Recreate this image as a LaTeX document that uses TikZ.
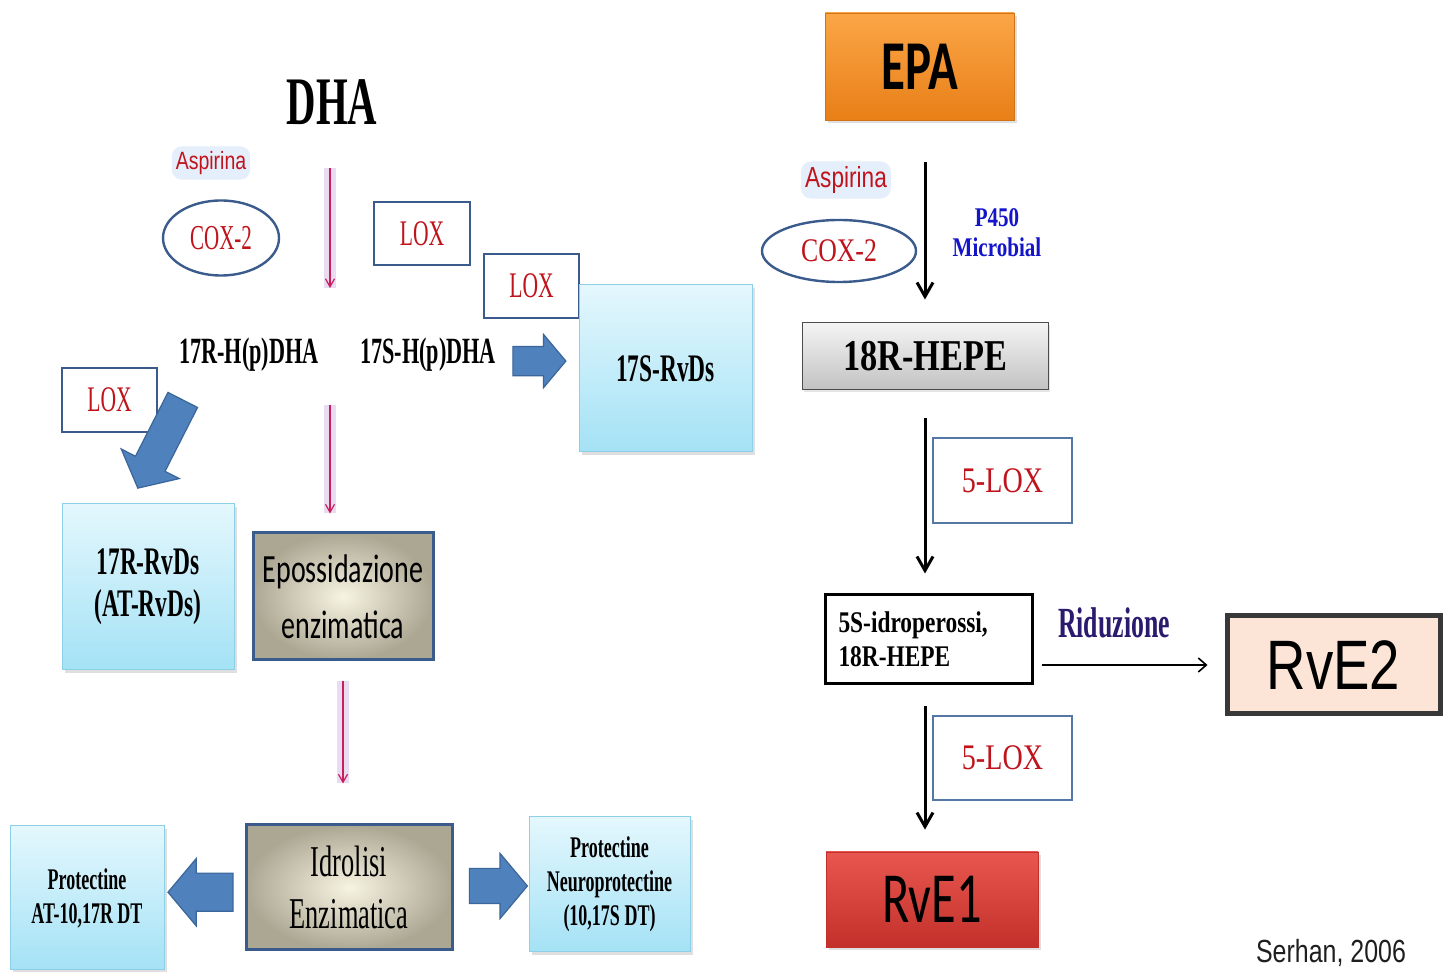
\documentclass[tikz,border=0pt]{standalone}
\usepackage{fontspec}
\setmainfont{Liberation Serif}[FakeStretch=0.6]
\newfontfamily\serifw{Liberation Serif}[FakeStretch=0.78]
\newfontfamily\calib{Carlito}[FakeStretch=0.7]
\newfontfamily\arialn{Liberation Sans}[FakeStretch=0.78]
\usepackage{tikz}
\usetikzlibrary{
  arrows.meta, positioning, shapes.geometric, shapes.arrows,
  shadows, calc
}
\definecolor{enzred}{HTML}{C0141C}
\definecolor{enzedge}{HTML}{3B5B8C}
\definecolor{loxedge}{HTML}{5577A3}
\definecolor{cyantop}{HTML}{E4F7FD}
\definecolor{cyanbot}{HTML}{A4E2F5}
\definecolor{cyanedge}{HTML}{8CCFE6}
\definecolor{arrblue}{HTML}{4F81BD}
\definecolor{arredge}{HTML}{3A6699}
\definecolor{khakiin}{HTML}{F8F4E2}
\definecolor{khakiout}{HTML}{ABA793}
\definecolor{pinkline}{HTML}{C81E5A}
\definecolor{lavglow}{HTML}{C9A6E0}
\definecolor{aspglow}{HTML}{8DB8EE}
\definecolor{orangetop}{HTML}{FBA647}
\definecolor{orangebot}{HTML}{E87F17}
\definecolor{graytop}{HTML}{F4F4F4}
\definecolor{graybot}{HTML}{C2C2C2}
\definecolor{redtop}{HTML}{E8574F}
\definecolor{redbot}{HTML}{C3302B}
\definecolor{peach}{HTML}{FCE4D6}
\definecolor{pblue}{HTML}{1414C8}
\definecolor{riduz}{HTML}{2B1A6E}

\begin{document}
\begin{tikzpicture}[x=0.5pt, y=-0.5pt,
  enzbox/.style={draw=enzedge, line width=1.2pt, fill=white, text=enzred,
    font=\fontsize{18}{20}\selectfont, inner sep=0pt},
  coxell/.style={ellipse, draw=enzedge, line width=1.2pt, text=enzred,
    font=\fontsize{17.5}{19}\selectfont, inner sep=0pt},
  asp/.style={text=enzred, font=\arialn\fontsize{12.5}{15}\selectfont,
    fill=aspglow, fill opacity=0.22, text opacity=1, rounded corners=5pt,
    inner xsep=2pt, inner ysep=2.5pt},
  cyanbox/.style={draw=cyanedge, line width=0.5pt, top color=cyantop,
    bottom color=cyanbot, align=center, inner sep=0pt,
    drop shadow={opacity=0.25, shadow xshift=1.5pt, shadow yshift=-1.5pt}},
  khakibox/.style={draw=enzedge, line width=1.5pt, inner color=khakiin,
    outer color=khakiout, align=center, inner sep=0pt},
  fatarrow/.style={single arrow, draw=arredge, fill=arrblue, line width=0.6pt,
    inner xsep=0pt, single arrow tip angle=100},
  pinkarrow/.style={draw=pinkline, line width=0.6pt,
    -{Straight Barb[length=4pt,width=4.5pt]},
    preaction={draw=lavglow, line width=6pt, opacity=0.4, -}},
  blackarrow/.style={draw=black, line width=1.5pt,
    -{Straight Barb[length=7pt,width=8pt]}},
  thinarrow/.style={draw=black, line width=0.8pt,
    -{Straight Barb[length=4pt,width=7pt]}}]

  \fill[white] (0,0) rectangle (1448,972);
  \useasboundingbox (0,0) rectangle (1448,972);

  % DHA side
  \node[font=\bfseries\fontsize{34}{36}\selectfont, anchor=south, inner sep=0pt] (dha) at (332,125) {DHA};
  \node[asp] (aspa) at (211,163) {Aspirina};
  \node[coxell, minimum width=58pt, minimum height=37.5pt] (coxa) at (221,238) {COX-2};
  \node[enzbox, minimum width=48pt, minimum height=31.5pt] (loxa) at (422,233.5) {LOX};
  \node[enzbox, minimum width=47.5pt, minimum height=32pt] (loxb) at (531.5,286) {LOX};
  \node[enzbox, minimum width=47.5pt, minimum height=32pt] (loxc) at (109.5,400) {LOX};

  \node[font=\bfseries\fontsize{18.5}{20}\selectfont, inner sep=0pt] (hr) at (249,355) {17R-H(p)DHA};
  \node[font=\bfseries\fontsize{18.5}{20}\selectfont, inner sep=0pt] (hs) at (428,355) {17S-H(p)DHA};
  \coordinate (hx) at (330,355);

  \node[cyanbox, font=\bfseries\fontsize{19.5}{21}\selectfont,
    minimum width=86.5pt, minimum height=83.5pt] (rs) at (665.5,368.5) {17S-RvDs};
  \node[cyanbox, font=\bfseries\fontsize{19.5}{21}\selectfont,
    minimum width=86pt, minimum height=83pt] (rr) at (148,587) {17R-RvDs\\(AT-RvDs)};
  \node[khakibox, font=\calib\fontsize{20}{28}\selectfont,
    minimum width=90pt, minimum height=63.5pt] (epo) at (343,596.5) {Epossidazione\\enzimatica};
  \node[khakibox, font=\fontsize{22}{26}\selectfont,
    minimum width=103pt, minimum height=62.5pt] (idr) at (349,887.5) {Idrolisi\\Enzimatica};
  \node[cyanbox, font=\bfseries\fontsize{15}{17}\selectfont,
    minimum width=77pt, minimum height=72pt] (ptl) at (87,898) {Protectine\\AT-10,17R DT};
  \node[cyanbox, font=\bfseries\fontsize{15}{17}\selectfont,
    minimum width=80.5pt, minimum height=67.5pt] (ptr) at (609.5,884.5) {Protectine\\Neuroprotectine\\(10,17S DT)};

  % Fat arrows
  \node[fatarrow, minimum height=26.5pt, inner ysep=7pt,
    single arrow head extend=6pt] (fa) at ($(hs.east)!0.45!(rs.west)$) {};
  \node[fatarrow, rotate=243, minimum height=49.5pt, inner ysep=8pt,
    single arrow head extend=8pt] (fb) at ($(hr.south west)!0.5!(rr.north)$) {};
  \node[fatarrow, rotate=180, minimum height=32.5pt, inner ysep=9.25pt,
    single arrow head extend=7.25pt] (fc) at ($(ptl.east)!0.55!(idr.west)$) {};
  \node[fatarrow, minimum height=29pt, inner ysep=8.5pt,
    single arrow head extend=7.5pt] (fd) at ($(idr.east)!0.5!(ptr.west)$) {};

  % Pink arrows
  \draw[pinkarrow, shorten <=21.5pt, shorten >=33.5pt] (dha.south -| hx) -- (hx);
  \draw[pinkarrow, shorten <=25pt, shorten >=9pt] (hx) -- (hx |- epo.north);
  \draw[pinkarrow, shorten <=10pt, shorten >=20pt] (epo.south) -- (epo.south |- idr.north);

  % EPA side
  \node[font=\calib\bfseries\fontsize{35}{40}\selectfont, top color=orangetop,
    bottom color=orangebot, draw=orangebot!90!black, line width=0.4pt,
    minimum width=94.5pt, minimum height=53.5pt,
    drop shadow={opacity=0.25, shadow xshift=1.5pt, shadow yshift=-1.5pt}] (epa) at (919.5,66.5) {EPA};
  \node[asp, font=\arialn\fontsize{14.5}{16}\selectfont] (aspb) at (846,180) {Aspirina};
  \node[coxell, font=\serifw\fontsize{16.5}{18}\selectfont, minimum width=77pt,
    minimum height=31pt] (coxb) at (839,251) {COX-2};
  \node[text=pblue, font=\serifw\bfseries\fontsize{13.5}{15}\selectfont, align=center,
    inner sep=0pt] (p450) at (997,233) {P450\\Microbial};
  \node[font=\serifw\bfseries\fontsize{22}{24}\selectfont, top color=graytop,
    bottom color=graybot, draw=black!70, line width=0.5pt,
    minimum width=123pt, minimum height=33.5pt,
    drop shadow={opacity=0.2, shadow xshift=1pt, shadow yshift=-1pt}] (hepe) at (925,356.5) {18R-HEPE};
  \node[enzbox, draw=loxedge, line width=1pt, font=\serifw\fontsize{18}{20}\selectfont,
    minimum width=69.5pt, minimum height=42.5pt] (loxd) at (1002.5,480.5) {5-LOX};
  \node[draw=black, line width=1.5pt, fill=white, align=left, text width=90pt,
    inner xsep=6.75pt, font=\serifw\bfseries\fontsize{15}{17}\selectfont,
    minimum width=103.5pt, minimum height=44.5pt] (hp) at (928.5,639.5) {5S-idroperossi,\\18R-HEPE};
  \node[text=riduz, font=\bfseries\fontsize{21.5}{23}\selectfont, inner sep=0pt] (ridu) at (1114,623) {Riduzione};
  \node[draw=black!78, line width=2.5pt, fill=peach, font=\arialn\fontsize{35}{40}\selectfont,
    minimum width=106.5pt, minimum height=49pt] (rve2) at (1333.5,665) {RvE2};
  \node[enzbox, draw=loxedge, line width=1pt, font=\serifw\fontsize{18}{20}\selectfont,
    minimum width=69.5pt, minimum height=42pt] (loxe) at (1002.5,758) {5-LOX};
  \node[font=\calib\fontsize{36}{40}\selectfont, top color=redtop,
    bottom color=redbot, draw=redbot, line width=0.4pt,
    minimum width=106pt, minimum height=47.5pt,
    drop shadow={opacity=0.25, shadow xshift=1.5pt, shadow yshift=-1.5pt}] (rve1) at (932,899.5) {RvE1};
  \node[text=black!88, font=\arialn\fontsize{16}{17}\selectfont, inner sep=0pt] (serhan) at (1331,953) {Serhan, 2006};

  % Black arrows
  \draw[blackarrow, shorten <=21pt, shorten >=11.5pt] (hepe.north |- epa.south) -- (hepe.north);
  \draw[blackarrow, shorten <=14pt, shorten >=10pt] (hepe.south) -- (hepe.south |- hp.north);
  \draw[blackarrow, shorten <=10.5pt, shorten >=11pt] (hepe.south |- hp.south) -- (hepe.south |- rve1.north);
  \draw[thinarrow, shorten <=4pt, shorten >=8.5pt] (hp.east |- rve2.west) -- (rve2.west);
\end{tikzpicture}
\end{document}
